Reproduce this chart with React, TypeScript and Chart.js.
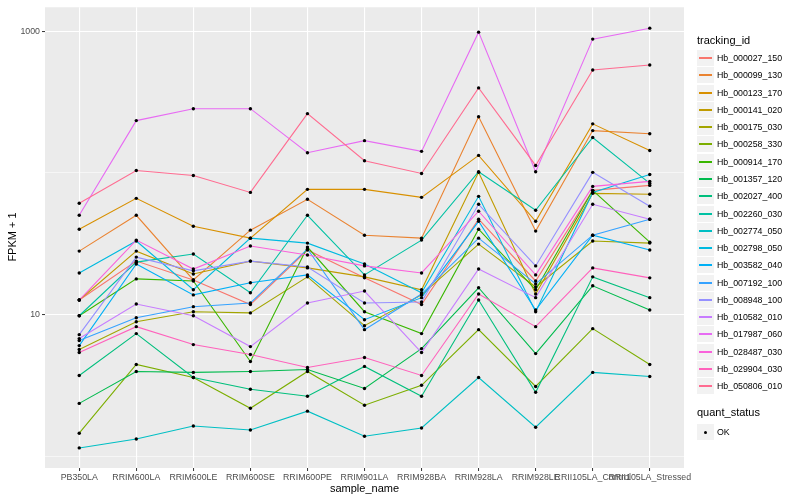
import React, { useEffect, useRef } from "react";
import { Chart, registerables } from "chart.js";
Chart.register(...registerables);

const sampleNames = [
  "PB350LA", "RRIM600LA", "RRIM600LE", "RRIM600SE", "RRIM600PE", "RRIM901LA",
  "RRIM928BA", "RRIM928LA", "RRIM928LE", "RRII105LA_Control", "RRII105LA_Stressed",
];

const trackingIds = [
  "Hb_000027_150", "Hb_000099_130", "Hb_000123_170", "Hb_000141_020", "Hb_000175_030",
  "Hb_000258_330", "Hb_000914_170", "Hb_001357_120", "Hb_002027_400", "Hb_002260_030",
  "Hb_002774_050", "Hb_002798_050", "Hb_003582_040", "Hb_007192_100", "Hb_008948_100",
  "Hb_010582_010", "Hb_017987_060", "Hb_028487_030", "Hb_029904_030", "Hb_050806_010",
];

const seriesColors = [
  "#F8766D", "#EA8331", "#D89000", "#C09B00", "#A3A500",
  "#7CAE00", "#39B600", "#00BB4E", "#00BF7D", "#00C1A3",
  "#00BFC4", "#00BAE0", "#00B0F6", "#35A2FF", "#9590FF",
  "#C77CFF", "#E76BF3", "#FA62DB", "#FF62BC", "#FF6C91",
];

const hb000027_150 = [12.7, 23.9, 17.6, 11.8, 28.6, 18.2, 11.8, 47.2, 17.3, 75.4, 81.7];
const hb000099_130 = [28.1, 50.3, 17.6, 39.5, 65.2, 36.4, 34.7, 249, 38.9, 199, 189];
const hb000123_170 = [40.1, 66.2, 42.1, 34.7, 76.6, 76.6, 67.3, 133, 45.6, 222, 144];
const hb000141_020 = [12.7, 28.1, 19.4, 23.9, 21.4, 18.5, 15.0, 101, 14.0, 71.8, 70.7];
const hb000175_030 = [5.68, 8.93, 10.5, 10.3, 18.5, 8.37, 13.8, 31.5, 15.7, 33.1, 32.0];
const hb000258_330 = [1.46, 4.46, 3.61, 2.19, 3.98, 2.3, 3.18, 7.85, 3.12, 7.98, 4.46];
const hb000914_170 = [9.84, 17.9, 17.3, 4.68, 30.0, 10.5, 7.36, 40.1, 15.0, 75.4, 32.5];
const hb001357_120 = [2.37, 3.98, 3.92, 3.98, 4.11, 3.02, 5.77, 15.5, 5.32, 16.0, 10.8];
const hb002027_400 = [3.73, 7.36, 3.61, 2.98, 2.66, 4.32, 2.66, 12.7, 2.84, 18.5, 13.2];
const hb002260_030 = [9.84, 23.5, 26.8, 14.3, 50.3, 19.1, 33.6, 102, 54.6, 178, 84.4];
const hb002774_050 = [1.15, 1.33, 1.64, 1.54, 2.09, 1.39, 1.59, 3.61, 1.61, 3.92, 3.67];
const hb002798_050 = [19.7, 33.1, 15.0, 34.7, 32.0, 22.8, 14.3, 68.4, 10.5, 72.9, 97.6];
const hb003582_040 = [6.06, 22.8, 13.8, 16.8, 19.1, 9.22, 13.2, 45.6, 10.8, 36.4, 28.6];
const hb007192_100 = [6.57, 9.53, 11.4, 12.1, 29.1, 7.85, 14.0, 34.7, 16.5, 36.4, 47.2];
const hb008948_100 = [7.24, 25.5, 20.4, 23.9, 21.7, 12.1, 12.3, 60.1, 22.1, 101, 58.2];
const hb010582_010 = [6.79, 11.9, 9.84, 5.96, 12.1, 14.7, 5.41, 21.0, 13.2, 60.1, 47.2];
const hb017987_060 = [50.3, 234, 284, 284, 139, 169, 142, 984, 102, 879, 1050];
const hb028487_030 = [12.7, 33.6, 21.0, 30.5, 26.4, 22.1, 19.7, 53.7, 19.1, 80.4, 87.2];
const hb029904_030 = [5.41, 8.24, 6.16, 5.24, 4.25, 4.99, 3.73, 14.0, 8.24, 21.4, 18.2];
const hb050806_010 = [61.1, 104, 96.0, 72.9, 262, 122, 99.2, 398, 113, 532, 577];

const seriesValues = [
  hb000027_150, hb000099_130, hb000123_170, hb000141_020, hb000175_030,
  hb000258_330, hb000914_170, hb001357_120, hb002027_400, hb002260_030,
  hb002774_050, hb002798_050, hb003582_040, hb007192_100, hb008948_100,
  hb010582_010, hb017987_060, hb028487_030, hb029904_030, hb050806_010,
];

const yTickValues = [1, 10, 100, 1000];
const yTickLabels = ["", "10", "", "1000"];
const yMajor = [false, true, false, true];

const quantStatus = ["OK"];

const FONT = "'Liberation Sans', Arial, Helvetica, sans-serif";

const panelBg = {
  id: "panelBg",
  beforeDraw(chart: any) {
    const { ctx, chartArea } = chart;
    if (!chartArea) return;
    ctx.save();
    ctx.fillStyle = "#EBEBEB";
    ctx.fillRect(chartArea.left, chartArea.top, chartArea.right - chartArea.left, chartArea.bottom - chartArea.top);
    ctx.restore();
  },
};

export default function App() {
  const ref = useRef<HTMLCanvasElement | null>(null);

  useEffect(() => {
    if (!ref.current) return;
    const lineSets = seriesValues.map((vals, i) => ({
      label: trackingIds[i],
      data: vals.map((v, j) => ({ x: j, y: v })),
      showLine: true,
      borderColor: seriesColors[i],
      backgroundColor: seriesColors[i],
      borderWidth: 1.1,
      pointRadius: 0,
      pointHoverRadius: 0,
      fill: false,
      tension: 0,
      order: 100 - i,
    }));
    const pointSet = {
      label: quantStatus[0],
      data: seriesValues.flatMap((vals) => vals.map((v, j) => ({ x: j, y: v }))),
      showLine: false,
      pointRadius: 1.7,
      pointHoverRadius: 1.7,
      backgroundColor: "#000000",
      borderColor: "#000000",
      borderWidth: 0,
      order: 0,
    };
    const chart = new Chart(ref.current, {
      type: "scatter",
      data: { datasets: [pointSet, ...lineSets] as any },
      plugins: [panelBg],
      options: {
        animation: false,
        responsive: false,
        events: [],
        layout: { padding: { left: 0, right: 116, top: 5, bottom: 0 } },
        plugins: { legend: { display: false }, tooltip: { enabled: false } },
        scales: {
          x: {
            type: "linear",
            min: -0.6,
            max: 10.6,
            afterBuildTicks: (s: any) => {
              s.ticks = sampleNames.map((_, i) => ({ value: i }));
            },
            afterFit: (s: any) => {
              s.height = 32;
            },
            ticks: {
              autoSkip: false,
              maxRotation: 0,
              minRotation: 0,
              padding: 1,
              color: "#4D4D4D",
              font: { family: FONT, size: 8.8 },
              callback: (v: any) => sampleNames[v] ?? "",
            },
            grid: { color: "#FFFFFF", lineWidth: 1.1, tickLength: 3, tickColor: "#333333", tickWidth: 1 },
            border: { display: false },
          },
          y: {
            type: "logarithmic",
            min: 0.83,
            max: 1474,
            afterBuildTicks: (s: any) => {
              s.ticks = yTickValues.map((v) => ({ value: v }));
            },
            afterFit: (s: any) => {
              s.width = 45;
            },
            ticks: {
              autoSkip: false,
              padding: 2,
              color: "#4D4D4D",
              font: { family: FONT, size: 8.8 },
              callback: (v: any) => {
                const i = yTickValues.indexOf(v);
                return i >= 0 ? yTickLabels[i] : "";
              },
            },
            grid: {
              color: "#FFFFFF",
              lineWidth: (c: any) => (yMajor[yTickValues.indexOf(c.tick?.value)] ? 1.1 : 0.55),
              tickLength: 3,
              tickWidth: 1,
              tickColor: (c: any) => (yMajor[yTickValues.indexOf(c.tick?.value)] ? "#333333" : "rgba(0,0,0,0)"),
            },
            border: { display: false },
          },
        },
      },
    });
    return () => chart.destroy();
  }, []);

  const legendTop = 50;
  const step = 17.28;

  return (
    <div style={{ position: "absolute", left: 0, top: 0, width: 800, height: 500, background: "#FFFFFF", fontFamily: FONT }}>
      <canvas ref={ref} width={800} height={500} style={{ position: "absolute", left: 0, top: 0, width: 800, height: 500 }} />
      <div style={{ position: "absolute", left: 0, top: 0, width: 24, height: 473, display: "flex", alignItems: "center", justifyContent: "center" }}>
        <div style={{ transform: "rotate(-90deg)", whiteSpace: "nowrap", fontSize: 11, color: "#000" }}>FPKM + 1</div>
      </div>
      <div style={{ position: "absolute", left: 45, top: 481, width: 639, textAlign: "center", fontSize: 11, lineHeight: "14px", color: "#000" }}>sample_name</div>
      <div style={{ position: "absolute", left: 697, top: 34, fontSize: 11, lineHeight: "13px", color: "#000", whiteSpace: "nowrap" }}>tracking_id</div>
      {trackingIds.map((id, i) => (
        <div key={id} style={{ position: "absolute", left: 697, top: Math.round(legendTop + i * step), height: 17, width: 103 }}>
          <div style={{ position: "absolute", left: 0, top: 0, width: 17, height: 16, background: "#F2F2F2" }}>
            <div style={{ position: "absolute", left: 2, top: 7, width: 13, height: 2, background: seriesColors[i] }} />
          </div>
          <div style={{ position: "absolute", left: 20, top: 0, lineHeight: "16px", fontSize: 8.8, color: "#000", whiteSpace: "nowrap" }}>{id}</div>
        </div>
      ))}
      <div style={{ position: "absolute", left: 697, top: 405.5, fontSize: 11, lineHeight: "13px", color: "#000", whiteSpace: "nowrap" }}>quant_status</div>
      <div style={{ position: "absolute", left: 697, top: 424, height: 17, width: 103 }}>
        <div style={{ position: "absolute", left: 0, top: 0, width: 17, height: 16, background: "#F2F2F2" }}>
          <div style={{ position: "absolute", left: 7, top: 6.5, width: 3.4, height: 3.4, borderRadius: "50%", background: "#000" }} />
        </div>
        <div style={{ position: "absolute", left: 20, top: 0, lineHeight: "16px", fontSize: 8.8, color: "#000", whiteSpace: "nowrap" }}>{quantStatus[0]}</div>
      </div>
    </div>
  );
}
